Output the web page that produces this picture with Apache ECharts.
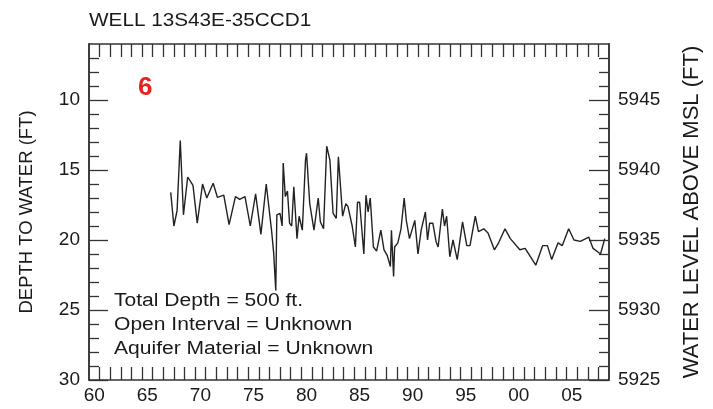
<!DOCTYPE html>
<html><head><meta charset="utf-8">
<script src="https://cdn.jsdelivr.net/npm/echarts@6/dist/echarts.min.js"></script>
<style>html,body{margin:0;padding:0;background:#fff}#c{width:713px;height:409px}</style>
</head><body><div id="c"></div>
<script>
const years = [1967.2,1967.5,1967.8,1968.1,1968.4,1968.8,1969.3,1969.7,1970.2,1970.6,1971.2,1971.6,1972.2,1972.7,1973.3,1973.7,1974.2,1974.7,1975.2,1975.7,1976.2,1976.7,1976.9,1977.1,1977.2,1977.5,1977.7,1977.8,1978.0,1978.2,1978.4,1978.6,1978.8,1979.1,1979.3,1979.6,1979.9,1980.0,1980.3,1980.7,1981.1,1981.3,1981.6,1981.9,1982.2,1982.5,1982.8,1983.0,1983.4,1983.7,1983.9,1984.3,1984.6,1984.8,1985.0,1985.4,1985.6,1985.8,1986.0,1986.3,1986.6,1987.0,1987.3,1987.6,1987.9,1988.0,1988.2,1988.3,1988.6,1988.9,1989.2,1989.4,1989.7,1990.2,1990.5,1990.8,1991.2,1991.4,1991.6,1991.9,1992.2,1992.4,1992.8,1993.0,1993.2,1993.5,1993.8,1994.2,1994.7,1995.1,1995.4,1995.9,1996.2,1996.7,1997.1,1997.7,1998.1,1998.7,1999.2,2000.1,2000.6,2001.6,2002.25,2002.7,2003.1,2003.7,2004.1,2004.7,2005.2,2005.8,2006.6,2007.0,2007.7,2008.1];
const depths = [16.6,19.0,17.9,12.9,18.2,15.5,16.1,18.8,16.0,17.0,15.95,16.95,16.8,18.9,16.9,17.1,16.9,19.0,16.7,19.6,16.0,19.3,20.9,23.6,18.2,18.1,19.0,14.5,16.9,16.5,18.8,19.0,16.2,19.9,18.3,19.3,14.3,13.8,17.4,19.3,17.0,18.7,19.2,13.3,14.3,18.1,18.45,14.05,18.3,17.4,17.6,19.0,20.5,17.3,17.3,21.0,16.8,18.0,17.0,20.5,20.8,19.3,20.7,21.1,21.9,19.3,22.6,20.5,20.2,19.2,17.0,18.6,19.9,18.6,21.0,19.3,18.0,20.0,18.8,18.8,20.1,20.5,17.8,19.0,18.3,21.2,20.0,21.4,18.7,20.4,20.4,18.3,19.4,19.2,19.5,20.7,20.2,19.2,19.9,20.7,20.6,21.8,20.4,20.4,21.4,20.2,20.4,19.2,20.0,20.1,19.8,20.6,21.0,19.9];
const xTickLabels = [1960,1965,1970,1975,1980,1985,1990,1995,2000,2005];
const depthLabels = [10,15,20,25,30];
const elevLabels = [5925,5930,5935,5940,5945];
const infoLines = ["Total Depth = 500 ft.","Open Interval = Unknown","Aquifer Material = Unknown"];
const wellTitle = "WELL 13S43E-35CCD1";
const wellNumber = "6";
const landSurface = 5955;

const xTicks = []; for (let y = 1960.5; y < 2008; y += 1) xTicks.push(y);
const depthMinor = []; for (let d = 7; d < 30; d++) if (d % 5) depthMinor.push(d);
const elevMinor = depthMinor.map(d => landSurface - d);

const F = '"Liberation Sans", Arial, sans-serif';
const lineC = '#333';
const txtC = '#1a1a1a';
const axLine = {show:true, lineStyle:{color:lineC, width:1.5}};
const chart = echarts.init(document.getElementById('c'), null, {renderer:'canvas'});
const xBase = (pos, labels) => ({
  type:'value', position:pos, min:1959.5, max:2008.5, gridIndex:0,
  axisLine:axLine, splitLine:{show:false},
  axisTick:{show:true, inside:true, length:13, customValues:xTicks, lineStyle:{color:lineC, width:1.3}},
  axisLabel:labels ? {show:true, customValues:xTickLabels, margin:6, fontSize:19, fontFamily:F, color:txtC,
    formatter:v => String(Math.round(v) % 100).padStart(2,'0')} : {show:false}
});
const yBase = (pos, min, max, inverse, ticks, len, labels) => ({
  type:'value', position:pos, min:min, max:max, inverse:inverse, offset:0,
  axisLine:axLine, splitLine:{show:false},
  axisTick:{show:true, inside:true, length:len, customValues:ticks, lineStyle:{color:lineC, width:1.3}},
  axisLabel:labels ? {show:true, customValues:labels, margin:9, fontSize:19, fontFamily:F, color:txtC,
    formatter:v => String(Math.round(v))} : {show:false}
});
const yAxes = [
  Object.assign(yBase('left', 6, 30, true, depthLabels, 19, depthLabels),
    {name:'DEPTH TO WATER (FT)', nameLocation:'middle', nameRotate:90, nameGap:53, nameTextStyle:{fontSize:18.5, fontFamily:F, color:txtC}}),
  yBase('left', 6, 30, true, depthMinor, 10, null),
  Object.assign(yBase('right', landSurface-30, landSurface-6, false, elevLabels, 20, elevLabels),
    {name:'WATER LEVEL ABOVE MSL (FT)', nameLocation:'middle', nameRotate:90, nameGap:72, nameTextStyle:{fontSize:22, fontFamily:F, color:txtC}}),
  yBase('right', landSurface-30, landSurface-6, false, elevMinor, 10, null)
];
const txt = (left, top, text, font, fill, sx) => ({type:'text', x:left, y:top, scaleX:sx, style:{text:text, font:font, fill:fill, textVerticalAlign:'top'}});
chart.setOption({
  animation:false,
  grid:{left:89, top:44, right:104, bottom:29, containLabel:false},
  xAxis:[xBase('bottom', true), xBase('top', false)],
  yAxis:yAxes,
  series:[{
    type:'line', xAxisIndex:0, yAxisIndex:0, symbol:'none',
    lineStyle:{color:'#222', width:1.4},
    data:years.map((y,i)=>[y, depths[i]])
  }],
  graphic:[
    txt(89, 11, wellTitle, '18.5px '+F, txtC, 1.12),
    txt(138, 75, wellNumber, 'bold 26px '+F, '#e8201e', 1),
    txt(114, 292, infoLines[0], '18px '+F, txtC, 1.17),
    txt(114, 316, infoLines[1], '18px '+F, txtC, 1.17),
    txt(114, 340, infoLines[2], '18px '+F, txtC, 1.17)
  ]
});
</script></body></html>
